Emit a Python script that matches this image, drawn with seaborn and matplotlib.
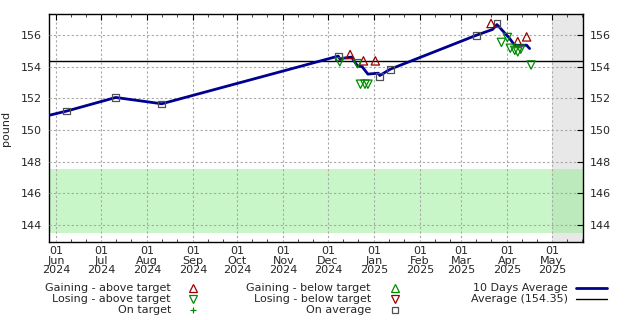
import matplotlib
matplotlib.use("Agg")
import matplotlib.pyplot as plt
import matplotlib.dates as mdates
from matplotlib.lines import Line2D
import seaborn as sns
import pandas as pd

# ---------------- data ----------------
avg_dates = ["2024-05-27", "2024-06-08", "2024-07-11", "2024-08-11", "2024-12-08",
             "2024-12-09", "2024-12-17", "2024-12-21", "2024-12-24", "2024-12-28",
             "2025-01-04", "2025-01-05", "2025-01-12", "2025-03-11", "2025-03-22",
             "2025-03-25", "2025-04-02", "2025-04-06", "2025-04-14", "2025-04-16"]
avg_values = [150.93, 151.2, 152.06, 151.66, 154.68,
              154.52, 154.62, 154.05, 154.02, 153.54,
              153.6, 153.45, 153.85, 156.0, 156.37,
              156.68, 155.86, 155.37, 155.37, 155.16]

gain_above_dates = ["2024-12-16", "2024-12-25", "2025-01-02", "2025-03-21", "2025-04-08", "2025-04-14"]
gain_above_values = [154.78, 154.38, 154.38, 156.75, 155.6, 155.9]

lose_above_dates = ["2024-12-09", "2024-12-21", "2024-12-23", "2024-12-26", "2024-12-28",
                    "2025-03-28", "2025-04-01", "2025-04-03", "2025-04-06", "2025-04-08",
                    "2025-04-10", "2025-04-17"]
lose_above_values = [154.32, 154.2, 152.9, 152.9, 152.9,
                     155.55, 155.86, 155.18, 155.05, 154.95,
                     155.12, 154.12]

on_avg_dates = ["2024-06-08", "2024-07-11", "2024-08-11", "2024-12-08", "2025-01-05",
                "2025-01-12", "2025-03-11", "2025-03-25"]
on_avg_values = [151.2, 152.06, 151.64, 154.68, 153.37, 153.85, 155.97, 156.75]

overall_average = 154.35
target_low, target_high = 143.5, 147.5
future_start = "2025-05-01"
x_start, x_end = "2024-05-27", "2025-05-22"
y_ticks = [144, 146, 148, 150, 152, 154, 156]
x_tick_dates = pd.date_range("2024-06-01", "2025-05-01", freq="MS")
x_tick_labels = [d.strftime("%d\n%b\n%Y") for d in x_tick_dates]

legend_left = ["Gaining - above target", "Losing - above target", "On target"]
legend_mid = ["Gaining - below target", "Losing - below target", "On average"]
legend_right = ["10 Days Average", "Average (154.35)"]

# ---------------- style ----------------
sns.set_style("white")
plt.rcParams["font.family"] = ["DejaVu Sans"]
plt.rcParams["font.size"] = 8

fig = plt.figure(figsize=(6.4, 3.2), dpi=100)
ax = fig.add_axes([49 / 640, 1 - 242 / 320, (583 - 49) / 640, (242 - 14) / 320])

df_avg = pd.DataFrame({"date": pd.to_datetime(avg_dates), "v": avg_values})
df_ga = pd.DataFrame({"date": pd.to_datetime(gain_above_dates), "v": gain_above_values})
df_la = pd.DataFrame({"date": pd.to_datetime(lose_above_dates), "v": lose_above_values})
df_oa = pd.DataFrame({"date": pd.to_datetime(on_avg_dates), "v": on_avg_values})

red = "#9b0000"
green = "#008a00"
navy = "#000090"

# backgrounds
ax.axvspan(pd.Timestamp(future_start), pd.Timestamp(x_end), color="#e8e8e8", zorder=0, lw=0)
ax.axhspan(target_low, target_high, color="#90ee90", alpha=0.48, zorder=0.5, lw=0)
ax.axhline(overall_average, color="black", lw=1.0, zorder=2)

sns.lineplot(data=df_avg, x="date", y="v", ax=ax, color=navy, lw=2.0,
             estimator=None, sort=False, zorder=3)

sns.scatterplot(data=df_oa, x="date", y="v", ax=ax, marker="s", s=24,
                facecolor="none", edgecolor="#505050", linewidth=0.9, zorder=4)
sns.scatterplot(data=df_ga, x="date", y="v", ax=ax, marker="^", s=36,
                facecolor="none", edgecolor=red, linewidth=0.9, zorder=4)
sns.scatterplot(data=df_la, x="date", y="v", ax=ax, marker="v", s=36,
                facecolor="none", edgecolor=green, linewidth=0.9, zorder=4)

ax.set_xlim(pd.Timestamp(x_start), pd.Timestamp(x_end))
ax.set_ylim(142.9, 157.35)
ax.set_yticks(y_ticks)
ax.set_yticklabels([str(v) for v in y_ticks])
ax.set_xticks(x_tick_dates)
ax.set_xticklabels(x_tick_labels, linespacing=0.95)
ax.xaxis.set_minor_locator(mdates.DayLocator(bymonthday=[11, 21]))

ax.set_xlabel("")
ax.set_ylabel("pound", fontsize=8, labelpad=7)

ax.grid(True, which="major", color="#a8a8a8", linestyle=(0, (2, 2)), linewidth=0.8)
ax.set_axisbelow(False)
for gl in ax.get_xgridlines() + ax.get_ygridlines():
    gl.set_zorder(1)

ax.tick_params(axis="both", which="major", direction="in", length=4, width=0.8,
               top=True, right=True, labelright=True, labelsize=8, color="black")
ax.tick_params(axis="y", which="major", pad=5)
ax.tick_params(axis="x", which="major", pad=3)
ax.tick_params(axis="x", which="minor", direction="in", length=2, width=0.6,
               top=True, bottom=True)
for sp in ax.spines.values():
    sp.set_visible(True)
    sp.set_color("black")
    sp.set_linewidth(1.0)

# ---------------- legend (manual, gnuplot-like) ----------------
rows_y = [1 - 288 / 320, 1 - 299 / 320, 1 - 310 / 320]
col_text_x = [171 / 640, 371 / 640, 568 / 640]
col_mark_x = [193 / 640, 395 / 640]

left_handles = [dict(marker="^", mec=red), dict(marker="v", mec=green), dict(marker="+", mec=green)]
mid_handles = [dict(marker="^", mec=green), dict(marker="v", mec=red), dict(marker="s", mec="#505050")]

for labels, handles, tx, mx in [(legend_left, left_handles, col_text_x[0], col_mark_x[0]),
                                (legend_mid, mid_handles, col_text_x[1], col_mark_x[1])]:
    for lab, h, yy in zip(labels, handles, rows_y):
        fig.text(tx, yy, lab, ha="right", va="center", fontsize=8)
        ms = 4 if h["marker"] == "+" else (4.5 if h["marker"] == "s" else 6)
        fig.add_artist(Line2D([mx], [yy], transform=fig.transFigure, marker=h["marker"],
                              mfc="none", mec=h["mec"], mew=0.9, ms=ms, ls="none"))

fig.text(col_text_x[2], rows_y[0], legend_right[0], ha="right", va="center", fontsize=8)
fig.text(col_text_x[2], rows_y[1], legend_right[1], ha="right", va="center", fontsize=8)
fig.add_artist(Line2D([576 / 640, 607 / 640], [rows_y[0]] * 2, transform=fig.transFigure,
                      color=navy, lw=2.0))
fig.add_artist(Line2D([576 / 640, 607 / 640], [rows_y[1]] * 2, transform=fig.transFigure,
                      color="black", lw=1.0))

fig.savefig("out.png", dpi=100)
